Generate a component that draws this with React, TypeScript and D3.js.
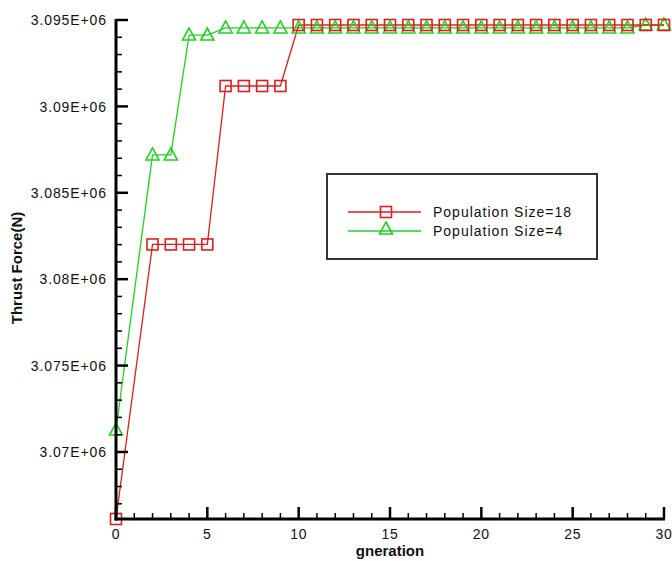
import * as d3 from 'd3'

const W = 672
const H = 561

// generation numbers and thrust values
const redGen = [0, 2, 3, 4, 5, 6, 7, 8, 9, 10, 11, 12, 13, 14, 15, 16, 17, 18, 19, 20, 21, 22, 23, 24, 25, 26, 27, 28, 29, 30]
const redVals = [
  3066120, 3082010, 3082010, 3082010, 3082010, 3091180, 3091180, 3091180, 3091180,
  3094710, 3094710, 3094710, 3094710, 3094710, 3094710, 3094710, 3094710, 3094710, 3094710, 3094710,
  3094710, 3094710, 3094710, 3094710, 3094710, 3094710, 3094710, 3094710, 3094710, 3094710,
]
const greenGen = [0, 2, 3, 4, 5, 6, 7, 8, 9, 10, 11, 12, 13, 14, 15, 16, 17, 18, 19, 20, 21, 22, 23, 24, 25, 26, 27, 28, 29, 30]
const greenVals = [
  3071270, 3087190, 3087190, 3094130, 3094130,
  3094540, 3094540, 3094540, 3094540, 3094540, 3094540, 3094540, 3094540, 3094540, 3094540, 3094540,
  3094540, 3094540, 3094540, 3094540, 3094540, 3094540, 3094540, 3094540, 3094540, 3094540, 3094540, 3094540,
  3094710, 3094710,
]

const xMajor = [0, 5, 10, 15, 20, 25, 30]
const xMinor = [1, 2, 3, 4, 6, 7, 8, 9, 11, 12, 13, 14, 16, 17, 18, 19, 21, 22, 23, 24, 26, 27, 28, 29]
const yMajor = [3070000, 3075000, 3080000, 3085000, 3090000, 3095000]
const yMajorLabels = ['3.07E+06', '3.075E+06', '3.08E+06', '3.085E+06', '3.09E+06', '3.095E+06']
const yMinor = [3067000, 3068000, 3069000, 3071000, 3072000, 3073000, 3074000, 3076000, 3077000, 3078000, 3079000,
  3081000, 3082000, 3083000, 3084000, 3086000, 3087000, 3088000, 3089000, 3091000, 3092000, 3093000, 3094000]

const legendNames = ['Population Size=18', 'Population Size=4']
const RED = '#e21d1d'
const GREEN = '#1fd41f'
const FONT = "'Liberation Sans', Arial, sans-serif"

const x = d3.scaleLinear().domain([0, 30]).range([116, 664])
const y = d3.scaleLinear().domain([3066120, 3095000]).range([519, 20])

const Square = ({ cx, cy }: { cx: number; cy: number }) => (
  <rect x={cx - 5.5} y={cy - 5.5} width={11} height={11} fill="none" stroke={RED} strokeWidth={1.6} />
)
const Tri = ({ cx, cy }: { cx: number; cy: number }) => (
  <path d={`M${cx},${cy - 7}L${cx + 6.5},${cy + 5}L${cx - 6.5},${cy + 5}Z`} fill="none" stroke={GREEN} strokeWidth={1.6} />
)

export default function App() {
  const line = d3.line<[number, number]>().x((d) => x(d[0])).y((d) => y(d[1]))
  const red: [number, number][] = redGen.map((g, i) => [g, redVals[i]])
  const green: [number, number][] = greenGen.map((g, i) => [g, greenVals[i]])
  const x0 = x(0)
  const yb = y(3066120)

  return (
    <svg width={W} height={H} style={{ position: 'absolute', left: 0, top: 0, background: '#fff' }} fontFamily={FONT}>
      {/* series */}
      <path d={line(green) || ''} fill="none" stroke={GREEN} strokeWidth={1.3} />
      <path d={line(red) || ''} fill="none" stroke={RED} strokeWidth={1.3} />
      {green.map((d, i) => <Tri key={'g' + i} cx={x(d[0])} cy={y(d[1])} />)}
      {red.map((d, i) => <Square key={'r' + i} cx={x(d[0])} cy={y(d[1])} />)}

      {/* axes */}
      <line x1={x0} x2={x0} y1={y(3095000) - 1} y2={yb + 1.5} stroke="#000" strokeWidth={3} />
      <line x1={x0 - 1.5} x2={x(30) + 1} y1={yb} y2={yb} stroke="#000" strokeWidth={3} />
      {yMajor.map((v) => (
        <line key={'ym' + v} x1={x0} x2={x0 + 12} y1={y(v)} y2={y(v)} stroke="#000" strokeWidth={2.5} />
      ))}
      {yMinor.map((v) => (
        <line key={'yn' + v} x1={x0} x2={x0 + 6} y1={y(v)} y2={y(v)} stroke="#000" strokeWidth={1.5} />
      ))}
      {xMajor.map((v) => (
        <line key={'xm' + v} x1={x(v)} x2={x(v)} y1={yb} y2={yb - 12} stroke="#000" strokeWidth={2.5} />
      ))}
      {xMinor.map((v) => (
        <line key={'xn' + v} x1={x(v)} x2={x(v)} y1={yb} y2={yb - 6} stroke="#000" strokeWidth={1.5} />
      ))}
      {yMajor.map((v, i) => (
        <text key={'yl' + v} x={107} y={y(v) + 1.5} textAnchor="end" dominantBaseline="middle" fontSize={14} letterSpacing={0.9} fill="#111">
          {yMajorLabels[i]}
        </text>
      ))}
      {xMajor.map((v) => (
        <text key={'xl' + v} x={x(v)} y={539} textAnchor="middle" fontSize={14} letterSpacing={0.7} fill="#111">
          {v}
        </text>
      ))}
      <text x={390} y={556} textAnchor="middle" fontSize={15} fontWeight="bold" fill="#111">gneration</text>
      <text transform={`translate(22,268) rotate(-90)`} textAnchor="middle" fontSize={15} fontWeight="bold" fill="#111">
        Thrust Force(N)
      </text>

      {/* legend */}
      <rect x={327} y={174} width={270} height={85} fill="#fff" stroke="#333" strokeWidth={2} />
      <line x1={348} x2={421} y1={212} y2={212} stroke={RED} strokeWidth={1.3} />
      <Square cx={386} cy={212} />
      <line x1={348} x2={421} y1={231} y2={231} stroke={GREEN} strokeWidth={1.3} />
      <Tri cx={386} cy={229} />
      {legendNames.map((n, i) => (
        <text key={n} x={433} y={217 + i * 19} fontSize={14} letterSpacing={1} fill="#111">{n}</text>
      ))}
    </svg>
  )
}
